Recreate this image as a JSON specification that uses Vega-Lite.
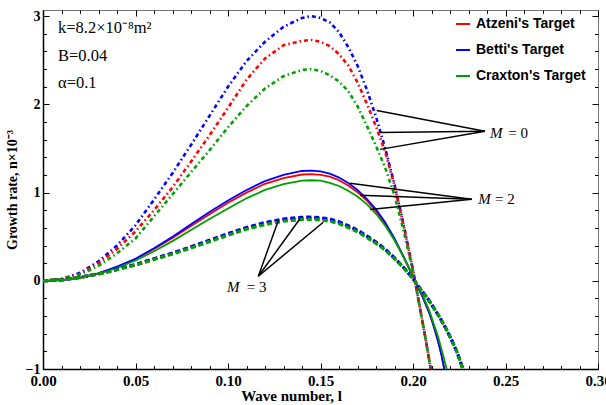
{
  "$schema": "https://vega.github.io/schema/vega-lite/v6.json",
  "width": 555,
  "height": 359,
  "autosize": {"type": "none"},
  "padding": {"left": 43, "top": 10, "right": 8, "bottom": 36},
  "background": "white",
  "config": {
    "view": {"stroke": "#777", "strokeWidth": 1},
    "axis": {"grid": false},
    "legend": {"labelFont": "Liberation Sans"}
  },
  "datasets": {
    "curves": [
      {"t":"Betti's Target","M":0,"x":0,"y":0},{"t":"Betti's Target","M":0,"x":0.01,"y":0.02},{"t":"Betti's Target","M":0,"x":0.02,"y":0.09},{"t":"Betti's Target","M":0,"x":0.03,"y":0.22},{"t":"Betti's Target","M":0,"x":0.04,"y":0.40},{"t":"Betti's Target","M":0,"x":0.05,"y":0.63},{"t":"Betti's Target","M":0,"x":0.06,"y":0.92},{"t":"Betti's Target","M":0,"x":0.07,"y":1.22},{"t":"Betti's Target","M":0,"x":0.08,"y":1.54},{"t":"Betti's Target","M":0,"x":0.09,"y":1.87},{"t":"Betti's Target","M":0,"x":0.10,"y":2.20},{"t":"Betti's Target","M":0,"x":0.11,"y":2.49},{"t":"Betti's Target","M":0,"x":0.12,"y":2.71},{"t":"Betti's Target","M":0,"x":0.13,"y":2.88},{"t":"Betti's Target","M":0,"x":0.14,"y":2.98},{"t":"Betti's Target","M":0,"x":0.145,"y":3.0},{"t":"Betti's Target","M":0,"x":0.15,"y":2.98},{"t":"Betti's Target","M":0,"x":0.155,"y":2.93},{"t":"Betti's Target","M":0,"x":0.16,"y":2.82},{"t":"Betti's Target","M":0,"x":0.165,"y":2.65},{"t":"Betti's Target","M":0,"x":0.17,"y":2.44},{"t":"Betti's Target","M":0,"x":0.175,"y":2.17},{"t":"Betti's Target","M":0,"x":0.18,"y":1.86},{"t":"Betti's Target","M":0,"x":0.185,"y":1.50},{"t":"Betti's Target","M":0,"x":0.19,"y":1.09},{"t":"Betti's Target","M":0,"x":0.195,"y":0.63},{"t":"Betti's Target","M":0,"x":0.2,"y":0.12},{"t":"Betti's Target","M":0,"x":0.201,"y":0.01},{"t":"Betti's Target","M":0,"x":0.203,"y":-0.22},{"t":"Betti's Target","M":0,"x":0.205,"y":-0.45},{"t":"Betti's Target","M":0,"x":0.207,"y":-0.68},{"t":"Betti's Target","M":0,"x":0.209,"y":-0.93},{"t":"Betti's Target","M":0,"x":0.2105,"y":-1.1},
      {"t":"Atzeni's Target","M":0,"x":0,"y":0},{"t":"Atzeni's Target","M":0,"x":0.01,"y":0.02},{"t":"Atzeni's Target","M":0,"x":0.02,"y":0.08},{"t":"Atzeni's Target","M":0,"x":0.03,"y":0.20},{"t":"Atzeni's Target","M":0,"x":0.04,"y":0.36},{"t":"Atzeni's Target","M":0,"x":0.05,"y":0.56},{"t":"Atzeni's Target","M":0,"x":0.06,"y":0.80},{"t":"Atzeni's Target","M":0,"x":0.07,"y":1.06},{"t":"Atzeni's Target","M":0,"x":0.08,"y":1.35},{"t":"Atzeni's Target","M":0,"x":0.09,"y":1.65},{"t":"Atzeni's Target","M":0,"x":0.10,"y":1.96},{"t":"Atzeni's Target","M":0,"x":0.11,"y":2.28},{"t":"Atzeni's Target","M":0,"x":0.12,"y":2.52},{"t":"Atzeni's Target","M":0,"x":0.13,"y":2.67},{"t":"Atzeni's Target","M":0,"x":0.14,"y":2.72},{"t":"Atzeni's Target","M":0,"x":0.145,"y":2.73},{"t":"Atzeni's Target","M":0,"x":0.15,"y":2.71},{"t":"Atzeni's Target","M":0,"x":0.155,"y":2.66},{"t":"Atzeni's Target","M":0,"x":0.16,"y":2.57},{"t":"Atzeni's Target","M":0,"x":0.165,"y":2.44},{"t":"Atzeni's Target","M":0,"x":0.17,"y":2.25},{"t":"Atzeni's Target","M":0,"x":0.175,"y":2.01},{"t":"Atzeni's Target","M":0,"x":0.18,"y":1.75},{"t":"Atzeni's Target","M":0,"x":0.185,"y":1.46},{"t":"Atzeni's Target","M":0,"x":0.19,"y":1.08},{"t":"Atzeni's Target","M":0,"x":0.195,"y":0.62},{"t":"Atzeni's Target","M":0,"x":0.2,"y":0.12},{"t":"Atzeni's Target","M":0,"x":0.201,"y":0.01},{"t":"Atzeni's Target","M":0,"x":0.203,"y":-0.22},{"t":"Atzeni's Target","M":0,"x":0.205,"y":-0.45},{"t":"Atzeni's Target","M":0,"x":0.207,"y":-0.68},{"t":"Atzeni's Target","M":0,"x":0.209,"y":-0.93},{"t":"Atzeni's Target","M":0,"x":0.2105,"y":-1.1},
      {"t":"Craxton's Target","M":0,"x":0,"y":0},{"t":"Craxton's Target","M":0,"x":0.01,"y":0.02},{"t":"Craxton's Target","M":0,"x":0.02,"y":0.07},{"t":"Craxton's Target","M":0,"x":0.03,"y":0.17},{"t":"Craxton's Target","M":0,"x":0.04,"y":0.31},{"t":"Craxton's Target","M":0,"x":0.05,"y":0.48},{"t":"Craxton's Target","M":0,"x":0.06,"y":0.73},{"t":"Craxton's Target","M":0,"x":0.07,"y":0.98},{"t":"Craxton's Target","M":0,"x":0.08,"y":1.23},{"t":"Craxton's Target","M":0,"x":0.09,"y":1.48},{"t":"Craxton's Target","M":0,"x":0.10,"y":1.74},{"t":"Craxton's Target","M":0,"x":0.11,"y":1.98},{"t":"Craxton's Target","M":0,"x":0.12,"y":2.18},{"t":"Craxton's Target","M":0,"x":0.13,"y":2.32},{"t":"Craxton's Target","M":0,"x":0.14,"y":2.39},{"t":"Craxton's Target","M":0,"x":0.145,"y":2.40},{"t":"Craxton's Target","M":0,"x":0.15,"y":2.38},{"t":"Craxton's Target","M":0,"x":0.155,"y":2.33},{"t":"Craxton's Target","M":0,"x":0.16,"y":2.26},{"t":"Craxton's Target","M":0,"x":0.165,"y":2.15},{"t":"Craxton's Target","M":0,"x":0.17,"y":1.98},{"t":"Craxton's Target","M":0,"x":0.175,"y":1.76},{"t":"Craxton's Target","M":0,"x":0.18,"y":1.53},{"t":"Craxton's Target","M":0,"x":0.185,"y":1.28},{"t":"Craxton's Target","M":0,"x":0.19,"y":0.97},{"t":"Craxton's Target","M":0,"x":0.195,"y":0.56},{"t":"Craxton's Target","M":0,"x":0.2,"y":0.10},{"t":"Craxton's Target","M":0,"x":0.201,"y":0.0},{"t":"Craxton's Target","M":0,"x":0.203,"y":-0.22},{"t":"Craxton's Target","M":0,"x":0.205,"y":-0.45},{"t":"Craxton's Target","M":0,"x":0.207,"y":-0.68},{"t":"Craxton's Target","M":0,"x":0.209,"y":-0.93},{"t":"Craxton's Target","M":0,"x":0.2105,"y":-1.1},

      {"t":"Atzeni's Target","M":2,"x":0,"y":0},{"t":"Atzeni's Target","M":2,"x":0.01,"y":0.008},{"t":"Atzeni's Target","M":2,"x":0.02,"y":0.034},{"t":"Atzeni's Target","M":2,"x":0.03,"y":0.083},{"t":"Atzeni's Target","M":2,"x":0.04,"y":0.155},{"t":"Atzeni's Target","M":2,"x":0.05,"y":0.245},{"t":"Atzeni's Target","M":2,"x":0.06,"y":0.36},{"t":"Atzeni's Target","M":2,"x":0.07,"y":0.485},{"t":"Atzeni's Target","M":2,"x":0.08,"y":0.62},{"t":"Atzeni's Target","M":2,"x":0.09,"y":0.755},{"t":"Atzeni's Target","M":2,"x":0.10,"y":0.885},{"t":"Atzeni's Target","M":2,"x":0.11,"y":1.0},{"t":"Atzeni's Target","M":2,"x":0.12,"y":1.10},{"t":"Atzeni's Target","M":2,"x":0.13,"y":1.165},{"t":"Atzeni's Target","M":2,"x":0.14,"y":1.205},{"t":"Atzeni's Target","M":2,"x":0.145,"y":1.21},{"t":"Atzeni's Target","M":2,"x":0.15,"y":1.20},{"t":"Atzeni's Target","M":2,"x":0.155,"y":1.18},{"t":"Atzeni's Target","M":2,"x":0.16,"y":1.14},{"t":"Atzeni's Target","M":2,"x":0.165,"y":1.08},{"t":"Atzeni's Target","M":2,"x":0.17,"y":1.005},{"t":"Atzeni's Target","M":2,"x":0.175,"y":0.91},{"t":"Atzeni's Target","M":2,"x":0.18,"y":0.79},{"t":"Atzeni's Target","M":2,"x":0.185,"y":0.645},{"t":"Atzeni's Target","M":2,"x":0.19,"y":0.47},{"t":"Atzeni's Target","M":2,"x":0.195,"y":0.265},{"t":"Atzeni's Target","M":2,"x":0.2,"y":0.05},{"t":"Atzeni's Target","M":2,"x":0.201,"y":0.0},{"t":"Atzeni's Target","M":2,"x":0.203,"y":-0.09},{"t":"Atzeni's Target","M":2,"x":0.2054,"y":-0.19},{"t":"Atzeni's Target","M":2,"x":0.209,"y":-0.375},{"t":"Atzeni's Target","M":2,"x":0.211,"y":-0.5},{"t":"Atzeni's Target","M":2,"x":0.2135,"y":-0.68},{"t":"Atzeni's Target","M":2,"x":0.2155,"y":-0.85},{"t":"Atzeni's Target","M":2,"x":0.2168,"y":-0.99},{"t":"Atzeni's Target","M":2,"x":0.2176,"y":-1.08},
      {"t":"Betti's Target","M":2,"x":0,"y":0},{"t":"Betti's Target","M":2,"x":0.01,"y":0.008},{"t":"Betti's Target","M":2,"x":0.02,"y":0.035},{"t":"Betti's Target","M":2,"x":0.03,"y":0.085},{"t":"Betti's Target","M":2,"x":0.04,"y":0.16},{"t":"Betti's Target","M":2,"x":0.05,"y":0.25},{"t":"Betti's Target","M":2,"x":0.06,"y":0.37},{"t":"Betti's Target","M":2,"x":0.07,"y":0.50},{"t":"Betti's Target","M":2,"x":0.08,"y":0.64},{"t":"Betti's Target","M":2,"x":0.09,"y":0.78},{"t":"Betti's Target","M":2,"x":0.10,"y":0.91},{"t":"Betti's Target","M":2,"x":0.11,"y":1.03},{"t":"Betti's Target","M":2,"x":0.12,"y":1.13},{"t":"Betti's Target","M":2,"x":0.13,"y":1.20},{"t":"Betti's Target","M":2,"x":0.14,"y":1.245},{"t":"Betti's Target","M":2,"x":0.145,"y":1.25},{"t":"Betti's Target","M":2,"x":0.15,"y":1.24},{"t":"Betti's Target","M":2,"x":0.155,"y":1.215},{"t":"Betti's Target","M":2,"x":0.16,"y":1.17},{"t":"Betti's Target","M":2,"x":0.165,"y":1.11},{"t":"Betti's Target","M":2,"x":0.17,"y":1.03},{"t":"Betti's Target","M":2,"x":0.175,"y":0.93},{"t":"Betti's Target","M":2,"x":0.18,"y":0.81},{"t":"Betti's Target","M":2,"x":0.185,"y":0.66},{"t":"Betti's Target","M":2,"x":0.19,"y":0.48},{"t":"Betti's Target","M":2,"x":0.195,"y":0.27},{"t":"Betti's Target","M":2,"x":0.2,"y":0.05},{"t":"Betti's Target","M":2,"x":0.201,"y":0.0},{"t":"Betti's Target","M":2,"x":0.203,"y":-0.09},{"t":"Betti's Target","M":2,"x":0.2054,"y":-0.19},{"t":"Betti's Target","M":2,"x":0.209,"y":-0.375},{"t":"Betti's Target","M":2,"x":0.211,"y":-0.5},{"t":"Betti's Target","M":2,"x":0.2135,"y":-0.68},{"t":"Betti's Target","M":2,"x":0.2155,"y":-0.85},{"t":"Betti's Target","M":2,"x":0.2168,"y":-0.99},{"t":"Betti's Target","M":2,"x":0.2176,"y":-1.08},
      {"t":"Craxton's Target","M":2,"x":0,"y":0},{"t":"Craxton's Target","M":2,"x":0.01,"y":0.007},{"t":"Craxton's Target","M":2,"x":0.02,"y":0.03},{"t":"Craxton's Target","M":2,"x":0.03,"y":0.077},{"t":"Craxton's Target","M":2,"x":0.04,"y":0.145},{"t":"Craxton's Target","M":2,"x":0.05,"y":0.23},{"t":"Craxton's Target","M":2,"x":0.06,"y":0.335},{"t":"Craxton's Target","M":2,"x":0.07,"y":0.45},{"t":"Craxton's Target","M":2,"x":0.08,"y":0.575},{"t":"Craxton's Target","M":2,"x":0.09,"y":0.70},{"t":"Craxton's Target","M":2,"x":0.10,"y":0.82},{"t":"Craxton's Target","M":2,"x":0.11,"y":0.935},{"t":"Craxton's Target","M":2,"x":0.12,"y":1.03},{"t":"Craxton's Target","M":2,"x":0.13,"y":1.095},{"t":"Craxton's Target","M":2,"x":0.14,"y":1.135},{"t":"Craxton's Target","M":2,"x":0.145,"y":1.14},{"t":"Craxton's Target","M":2,"x":0.15,"y":1.135},{"t":"Craxton's Target","M":2,"x":0.155,"y":1.11},{"t":"Craxton's Target","M":2,"x":0.16,"y":1.075},{"t":"Craxton's Target","M":2,"x":0.165,"y":1.02},{"t":"Craxton's Target","M":2,"x":0.17,"y":0.955},{"t":"Craxton's Target","M":2,"x":0.175,"y":0.87},{"t":"Craxton's Target","M":2,"x":0.18,"y":0.76},{"t":"Craxton's Target","M":2,"x":0.185,"y":0.625},{"t":"Craxton's Target","M":2,"x":0.19,"y":0.46},{"t":"Craxton's Target","M":2,"x":0.195,"y":0.265},{"t":"Craxton's Target","M":2,"x":0.2,"y":0.05},{"t":"Craxton's Target","M":2,"x":0.201,"y":0.005},{"t":"Craxton's Target","M":2,"x":0.203,"y":-0.08},{"t":"Craxton's Target","M":2,"x":0.2054,"y":-0.17},{"t":"Craxton's Target","M":2,"x":0.209,"y":-0.35},{"t":"Craxton's Target","M":2,"x":0.2135,"y":-0.63},{"t":"Craxton's Target","M":2,"x":0.216,"y":-0.82},{"t":"Craxton's Target","M":2,"x":0.2182,"y":-1.0},{"t":"Craxton's Target","M":2,"x":0.219,"y":-1.08},

      {"t":"Atzeni's Target","M":3,"x":0,"y":0},{"t":"Atzeni's Target","M":3,"x":0.01,"y":0.01},{"t":"Atzeni's Target","M":3,"x":0.02,"y":0.039},{"t":"Atzeni's Target","M":3,"x":0.03,"y":0.079},{"t":"Atzeni's Target","M":3,"x":0.04,"y":0.128},{"t":"Atzeni's Target","M":3,"x":0.05,"y":0.182},{"t":"Atzeni's Target","M":3,"x":0.06,"y":0.246},{"t":"Atzeni's Target","M":3,"x":0.07,"y":0.31},{"t":"Atzeni's Target","M":3,"x":0.08,"y":0.379},{"t":"Atzeni's Target","M":3,"x":0.09,"y":0.453},{"t":"Atzeni's Target","M":3,"x":0.10,"y":0.527},{"t":"Atzeni's Target","M":3,"x":0.11,"y":0.596},{"t":"Atzeni's Target","M":3,"x":0.12,"y":0.65},{"t":"Atzeni's Target","M":3,"x":0.13,"y":0.69},{"t":"Atzeni's Target","M":3,"x":0.14,"y":0.709},{"t":"Atzeni's Target","M":3,"x":0.145,"y":0.711},{"t":"Atzeni's Target","M":3,"x":0.15,"y":0.704},{"t":"Atzeni's Target","M":3,"x":0.155,"y":0.69},{"t":"Atzeni's Target","M":3,"x":0.16,"y":0.66},{"t":"Atzeni's Target","M":3,"x":0.165,"y":0.616},{"t":"Atzeni's Target","M":3,"x":0.17,"y":0.566},{"t":"Atzeni's Target","M":3,"x":0.175,"y":0.502},{"t":"Atzeni's Target","M":3,"x":0.18,"y":0.433},{"t":"Atzeni's Target","M":3,"x":0.185,"y":0.355},{"t":"Atzeni's Target","M":3,"x":0.19,"y":0.256},{"t":"Atzeni's Target","M":3,"x":0.195,"y":0.148},{"t":"Atzeni's Target","M":3,"x":0.2,"y":0.025},{"t":"Atzeni's Target","M":3,"x":0.2035,"y":-0.08},{"t":"Atzeni's Target","M":3,"x":0.2076,"y":-0.19},{"t":"Atzeni's Target","M":3,"x":0.211,"y":-0.30},{"t":"Atzeni's Target","M":3,"x":0.2146,"y":-0.42},{"t":"Atzeni's Target","M":3,"x":0.218,"y":-0.55},{"t":"Atzeni's Target","M":3,"x":0.2211,"y":-0.68},{"t":"Atzeni's Target","M":3,"x":0.224,"y":-0.82},{"t":"Atzeni's Target","M":3,"x":0.2268,"y":-0.99},{"t":"Atzeni's Target","M":3,"x":0.2278,"y":-1.06},
      {"t":"Betti's Target","M":3,"x":0,"y":0},{"t":"Betti's Target","M":3,"x":0.01,"y":0.01},{"t":"Betti's Target","M":3,"x":0.02,"y":0.04},{"t":"Betti's Target","M":3,"x":0.03,"y":0.08},{"t":"Betti's Target","M":3,"x":0.04,"y":0.13},{"t":"Betti's Target","M":3,"x":0.05,"y":0.185},{"t":"Betti's Target","M":3,"x":0.06,"y":0.25},{"t":"Betti's Target","M":3,"x":0.07,"y":0.315},{"t":"Betti's Target","M":3,"x":0.08,"y":0.385},{"t":"Betti's Target","M":3,"x":0.09,"y":0.46},{"t":"Betti's Target","M":3,"x":0.10,"y":0.535},{"t":"Betti's Target","M":3,"x":0.11,"y":0.605},{"t":"Betti's Target","M":3,"x":0.12,"y":0.66},{"t":"Betti's Target","M":3,"x":0.13,"y":0.70},{"t":"Betti's Target","M":3,"x":0.14,"y":0.72},{"t":"Betti's Target","M":3,"x":0.145,"y":0.722},{"t":"Betti's Target","M":3,"x":0.15,"y":0.715},{"t":"Betti's Target","M":3,"x":0.155,"y":0.70},{"t":"Betti's Target","M":3,"x":0.16,"y":0.67},{"t":"Betti's Target","M":3,"x":0.165,"y":0.625},{"t":"Betti's Target","M":3,"x":0.17,"y":0.575},{"t":"Betti's Target","M":3,"x":0.175,"y":0.51},{"t":"Betti's Target","M":3,"x":0.18,"y":0.44},{"t":"Betti's Target","M":3,"x":0.185,"y":0.36},{"t":"Betti's Target","M":3,"x":0.19,"y":0.26},{"t":"Betti's Target","M":3,"x":0.195,"y":0.15},{"t":"Betti's Target","M":3,"x":0.2,"y":0.025},{"t":"Betti's Target","M":3,"x":0.2035,"y":-0.08},{"t":"Betti's Target","M":3,"x":0.2076,"y":-0.19},{"t":"Betti's Target","M":3,"x":0.211,"y":-0.30},{"t":"Betti's Target","M":3,"x":0.2146,"y":-0.42},{"t":"Betti's Target","M":3,"x":0.218,"y":-0.55},{"t":"Betti's Target","M":3,"x":0.2211,"y":-0.68},{"t":"Betti's Target","M":3,"x":0.224,"y":-0.82},{"t":"Betti's Target","M":3,"x":0.2268,"y":-0.99},{"t":"Betti's Target","M":3,"x":0.2278,"y":-1.06},
      {"t":"Craxton's Target","M":3,"x":0,"y":0},{"t":"Craxton's Target","M":3,"x":0.01,"y":0.01},{"t":"Craxton's Target","M":3,"x":0.02,"y":0.039},{"t":"Craxton's Target","M":3,"x":0.03,"y":0.077},{"t":"Craxton's Target","M":3,"x":0.04,"y":0.125},{"t":"Craxton's Target","M":3,"x":0.05,"y":0.179},{"t":"Craxton's Target","M":3,"x":0.06,"y":0.241},{"t":"Craxton's Target","M":3,"x":0.07,"y":0.304},{"t":"Craxton's Target","M":3,"x":0.08,"y":0.372},{"t":"Craxton's Target","M":3,"x":0.09,"y":0.444},{"t":"Craxton's Target","M":3,"x":0.10,"y":0.516},{"t":"Craxton's Target","M":3,"x":0.11,"y":0.584},{"t":"Craxton's Target","M":3,"x":0.12,"y":0.637},{"t":"Craxton's Target","M":3,"x":0.13,"y":0.676},{"t":"Craxton's Target","M":3,"x":0.14,"y":0.695},{"t":"Craxton's Target","M":3,"x":0.145,"y":0.697},{"t":"Craxton's Target","M":3,"x":0.15,"y":0.69},{"t":"Craxton's Target","M":3,"x":0.155,"y":0.676},{"t":"Craxton's Target","M":3,"x":0.16,"y":0.647},{"t":"Craxton's Target","M":3,"x":0.165,"y":0.603},{"t":"Craxton's Target","M":3,"x":0.17,"y":0.555},{"t":"Craxton's Target","M":3,"x":0.175,"y":0.492},{"t":"Craxton's Target","M":3,"x":0.18,"y":0.425},{"t":"Craxton's Target","M":3,"x":0.185,"y":0.347},{"t":"Craxton's Target","M":3,"x":0.19,"y":0.251},{"t":"Craxton's Target","M":3,"x":0.195,"y":0.145},{"t":"Craxton's Target","M":3,"x":0.2,"y":0.024},{"t":"Craxton's Target","M":3,"x":0.2035,"y":-0.08},{"t":"Craxton's Target","M":3,"x":0.2076,"y":-0.19},{"t":"Craxton's Target","M":3,"x":0.211,"y":-0.30},{"t":"Craxton's Target","M":3,"x":0.2146,"y":-0.42},{"t":"Craxton's Target","M":3,"x":0.218,"y":-0.55},{"t":"Craxton's Target","M":3,"x":0.2211,"y":-0.68},{"t":"Craxton's Target","M":3,"x":0.224,"y":-0.82},{"t":"Craxton's Target","M":3,"x":0.2268,"y":-0.99},{"t":"Craxton's Target","M":3,"x":0.2278,"y":-1.06}
    ],
    "ann": [
      {"x":0.2389,"y":1.695,"x2":0.1804,"y2":1.93},
      {"x":0.2389,"y":1.695,"x2":0.1822,"y2":1.68},
      {"x":0.2389,"y":1.695,"x2":0.1822,"y2":1.49},
      {"x":0.2317,"y":0.925,"x2":0.166,"y2":1.105},
      {"x":0.2317,"y":0.925,"x2":0.1714,"y2":0.97},
      {"x":0.2317,"y":0.925,"x2":0.1768,"y2":0.807},
      {"x":0.1164,"y":0.052,"x2":0.1272,"y2":0.684},
      {"x":0.1164,"y":0.052,"x2":0.1389,"y2":0.703},
      {"x":0.1164,"y":0.052,"x2":0.1515,"y2":0.664}
    ],
    "mlab": [
      {"x":0.2416,"y":1.68,"txt":"M"},
      {"x":0.2353,"y":0.925,"txt":"M"},
      {"x":0.0995,"y":-0.075,"txt":"M"}
    ],
    "eqlab": [
      {"x":0.2515,"y":1.68,"txt":"= 0"},
      {"x":0.2443,"y":0.925,"txt":"= 2"},
      {"x":0.1101,"y":-0.075,"txt":"= 3"}
    ],
    "params": [
      {"x":0.0081,"y":2.87,"txt":"k=8.2×10⁻⁸m²"},
      {"x":0.0081,"y":2.55,"txt":"B=0.04"},
      {"x":0.0081,"y":2.24,"txt":"α=0.1"}
    ]
  },
  "resolve": {"axis": {"x": "independent", "y": "independent"}},
  "layer": [
    {
      "data": {"name": "curves"},
      "transform": [{"filter": "datum.M == 0"}],
      "mark": {"type": "line", "clip": true, "strokeDash": [4, 3, 1.5, 3], "strokeWidth": 2.6, "strokeCap": "butt"},
      "encoding": {
        "x": {"field": "x", "type": "quantitative", "scale": {"domain": [0, 0.3], "nice": false},
          "axis": {"orient": "bottom", "values": [0, 0.05, 0.1, 0.15, 0.2, 0.25, 0.3], "format": ".2f", "ticks": false, "labelPadding": 4, "labelFlush": false, "labelOverlap": false, "labelFont": "Liberation Serif", "labelFontWeight": "bold", "labelFontSize": 15, "labelColor": "black", "domainColor": "black", "domainWidth": 1.5, "title": "Wave number, l", "titleFont": "Liberation Serif", "titleFontWeight": "bold", "titleFontSize": 15, "titleColor": "black", "titlePadding": 0, "titleX": 248, "titleAlign": "center", "titleAnchor": "start"}},
        "y": {"field": "y", "type": "quantitative", "scale": {"domain": [-1, 3.07], "nice": false},
          "axis": {"orient": "left", "values": [-1, 0, 1, 2, 3], "ticks": false, "labelPadding": 3, "labelFlush": false, "labelOverlap": false, "labelFont": "Liberation Serif", "labelFontWeight": "bold", "labelFontSize": 14, "labelColor": "black", "domainColor": "black", "domainWidth": 1.5, "title": "Growth rate, n×10⁻³", "titleFont": "Liberation Serif", "titleFontWeight": "bold", "titleFontSize": 14, "titleColor": "black", "titlePadding": 6}},
        "color": {"field": "t", "type": "nominal",
          "scale": {"domain": ["Atzeni's Target", "Betti's Target", "Craxton's Target"], "range": ["#ff0000", "#0000ff", "#00a000"]},
          "legend": {"title": null, "orient": "none", "legendX": 412, "legendY": 6, "padding": 0, "symbolType": "stroke", "symbolSize": 196, "symbolStrokeWidth": 2, "symbolDash": [1, 0], "labelFont": "Liberation Sans", "labelFontWeight": "bold", "labelFontSize": 14, "labelColor": "black", "labelOffset": 5, "rowPadding": 11,
            "encode": {"symbols": {"update": {"strokeDash": {"value": [1, 0]}, "strokeWidth": {"value": 2}}}}}}
      }
    },
    {
      "data": {"name": "curves"},
      "transform": [{"filter": "datum.M == 2"}],
      "mark": {"type": "line", "clip": true, "strokeWidth": 1.8},
      "encoding": {
        "x": {"field": "x", "type": "quantitative", "scale": {"domain": [0, 0.3], "nice": false},
          "axis": {"orient": "bottom", "values": [0, 0.05, 0.1, 0.15, 0.2, 0.25, 0.3], "tickSize": -6, "tickColor": "black", "labels": false, "domain": false, "title": null}},
        "y": {"field": "y", "type": "quantitative", "scale": {"domain": [-1, 3.07], "nice": false},
          "axis": {"orient": "left", "values": [-1, 0, 1, 2, 3], "tickSize": -6, "tickColor": "black", "labels": false, "domain": false, "title": null}},
        "color": {"field": "t", "type": "nominal",
          "scale": {"domain": ["Atzeni's Target", "Betti's Target", "Craxton's Target"], "range": ["#ff0000", "#0000ff", "#00a000"]},
          "legend": {"title": null, "orient": "none", "legendX": 412, "legendY": 6, "padding": 0, "symbolType": "stroke", "symbolSize": 196, "symbolStrokeWidth": 2, "symbolDash": [1, 0], "labelFont": "Liberation Sans", "labelFontWeight": "bold", "labelFontSize": 14, "labelColor": "black", "labelOffset": 5, "rowPadding": 11,
            "encode": {"symbols": {"update": {"strokeDash": {"value": [1, 0]}, "strokeWidth": {"value": 2}}}}}}
      }
    },
    {
      "data": {"name": "curves"},
      "transform": [{"filter": "datum.M == 3"}],
      "mark": {"type": "line", "clip": true, "strokeDash": [5, 3], "strokeWidth": 3.2, "strokeCap": "butt"},
      "encoding": {
        "x": {"field": "x", "type": "quantitative", "scale": {"domain": [0, 0.3], "nice": false},
          "axis": {"orient": "bottom", "values": [0.01,0.02,0.03,0.04,0.06,0.07,0.08,0.09,0.11,0.12,0.13,0.14,0.16,0.17,0.18,0.19,0.21,0.22,0.23,0.24,0.26,0.27,0.28,0.29], "tickSize": -3.5, "tickColor": "black", "labels": false, "domain": false, "title": null}},
        "y": {"field": "y", "type": "quantitative", "scale": {"domain": [-1, 3.07], "nice": false},
          "axis": {"orient": "left", "values": [-0.8,-0.6,-0.4,-0.2,0.2,0.4,0.6,0.8,1.2,1.4,1.6,1.8,2.2,2.4,2.6,2.8], "tickSize": -3.5, "tickColor": "black", "labels": false, "domain": false, "title": null}},
        "color": {"field": "t", "type": "nominal",
          "scale": {"domain": ["Atzeni's Target", "Betti's Target", "Craxton's Target"], "range": ["#ff0000", "#0000ff", "#00a000"]},
          "legend": {"title": null, "orient": "none", "legendX": 412, "legendY": 6, "padding": 0, "symbolType": "stroke", "symbolSize": 196, "symbolStrokeWidth": 2, "symbolDash": [1, 0], "labelFont": "Liberation Sans", "labelFontWeight": "bold", "labelFontSize": 14, "labelColor": "black", "labelOffset": 5, "rowPadding": 11,
            "encode": {"symbols": {"update": {"strokeDash": {"value": [1, 0]}, "strokeWidth": {"value": 2}}}}}}
      }
    },
    {
      "data": {"name": "ann"},
      "mark": {"type": "rule", "color": "black", "strokeWidth": 1.5},
      "encoding": {
        "x": {"field": "x", "type": "quantitative", "scale": {"domain": [0, 0.3], "nice": false},
          "axis": {"orient": "top", "values": [0, 0.05, 0.1, 0.15, 0.2, 0.25, 0.3], "tickSize": -6, "tickColor": "black", "labels": false, "domain": false, "title": null}},
        "y": {"field": "y", "type": "quantitative", "scale": {"domain": [-1, 3.07], "nice": false},
          "axis": {"orient": "right", "values": [-1, 0, 1, 2, 3], "tickSize": -6, "tickColor": "black", "labels": false, "domain": false, "title": null}},
        "x2": {"field": "x2"},
        "y2": {"field": "y2"}
      }
    },
    {
      "data": {"name": "mlab"},
      "mark": {"type": "text", "align": "left", "baseline": "middle", "font": "Liberation Serif", "fontStyle": "italic", "fontSize": 15, "color": "black"},
      "encoding": {
        "x": {"field": "x", "type": "quantitative", "scale": {"domain": [0, 0.3], "nice": false},
          "axis": {"orient": "top", "values": [0.01,0.02,0.03,0.04,0.06,0.07,0.08,0.09,0.11,0.12,0.13,0.14,0.16,0.17,0.18,0.19,0.21,0.22,0.23,0.24,0.26,0.27,0.28,0.29], "tickSize": -3.5, "tickColor": "black", "labels": false, "domain": false, "title": null}},
        "y": {"field": "y", "type": "quantitative", "scale": {"domain": [-1, 3.07], "nice": false},
          "axis": {"orient": "right", "values": [-0.8,-0.6,-0.4,-0.2,0.2,0.4,0.6,0.8,1.2,1.4,1.6,1.8,2.2,2.4,2.6,2.8], "tickSize": -3.5, "tickColor": "black", "labels": false, "domain": false, "title": null}},
        "text": {"field": "txt"}
      }
    },
    {
      "data": {"name": "eqlab"},
      "mark": {"type": "text", "align": "left", "baseline": "middle", "font": "Liberation Serif", "fontSize": 15, "color": "black"},
      "encoding": {
        "x": {"field": "x", "type": "quantitative", "scale": {"domain": [0, 0.3], "nice": false}, "axis": null},
        "y": {"field": "y", "type": "quantitative", "scale": {"domain": [-1, 3.07], "nice": false}, "axis": null},
        "text": {"field": "txt"}
      }
    },
    {
      "data": {"name": "params"},
      "mark": {"type": "text", "align": "left", "baseline": "middle", "font": "Liberation Serif", "fontSize": 16.5, "color": "black"},
      "encoding": {
        "x": {"field": "x", "type": "quantitative", "scale": {"domain": [0, 0.3], "nice": false}, "axis": null},
        "y": {"field": "y", "type": "quantitative", "scale": {"domain": [-1, 3.07], "nice": false}, "axis": null},
        "text": {"field": "txt"}
      }
    }
  ]
}
